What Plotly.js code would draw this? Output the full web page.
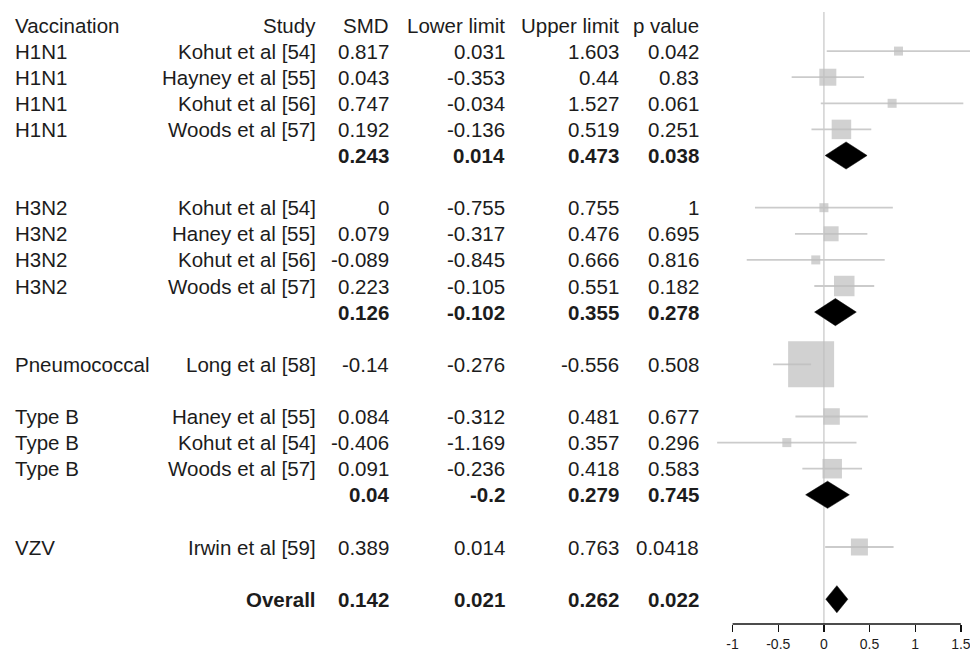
<!DOCTYPE html>
<html>
<head>
<meta charset="utf-8">
<script src="https://cdn.plot.ly/plotly-3.0.1.min.js"></script>
<style>
  html, body { margin: 0; padding: 0; background: #ffffff; }
  #chart { width: 970px; height: 655px; }
</style>
</head>
<body>
<div id="chart"></div>
<script>
// ---------------- data ----------------
const vaccination = ["H1N1","H1N1","H1N1","H1N1",
                     "H3N2","H3N2","H3N2","H3N2",
                     "Pneumococcal",
                     "Type B","Type B","Type B",
                     "VZV"];
const study = ["Kohut et al [54]","Hayney et al [55]","Kohut et al [56]","Woods et al [57]",
               "Kohut et al [54]","Haney et al [55]","Kohut et al [56]","Woods et al [57]",
               "Long et al [58]",
               "Haney et al [55]","Kohut et al [54]","Woods et al [57]",
               "Irwin et al [59]"];
const smd    = [0.817, 0.043, 0.747, 0.192,  0, 0.079, -0.089, 0.223,  -0.14,  0.084, -0.406, 0.091,  0.389];
const lower  = [0.031, -0.353, -0.034, -0.136,  -0.755, -0.317, -0.845, -0.105,  -0.276,  -0.312, -1.169, -0.236,  0.014];
const upper  = [1.603, 0.44, 1.527, 0.519,  0.755, 0.476, 0.666, 0.551,  -0.556,  0.481, 0.357, 0.418,  0.763];
const pValue = [0.042, 0.83, 0.061, 0.251,  1, 0.695, 0.816, 0.182,  0.508,  0.677, 0.296, 0.583,  0.0418];
// relative study weight shown as box size
const boxWeight = [9, 17, 9, 19.5,  9, 15, 9, 20.5,  46,  16.5, 9, 19.5,  17];

const summaryGroup = ["H1N1", "H3N2", "Type B"];
const summarySMD   = [0.243, 0.126, 0.04];
const summaryLower = [0.014, -0.102, -0.2];
const summaryUpper = [0.473, 0.355, 0.279];
const summaryP     = [0.038, 0.278, 0.745];

const overallLabel = "Overall";
const overallSMD = 0.142, overallLower = 0.021, overallUpper = 0.262, overallP = 0.022;

const headers = ["Vaccination", "Study", "SMD", "Lower limit", "Upper limit", "p value"];
const xTicks = [-1, -0.5, 0, 0.5, 1, 1.5];

// ---------------- row layout ----------------
const groups = [];
vaccination.forEach((g, i) => {
  if (!groups.length || groups[groups.length - 1].name !== g) groups.push({name: g, idx: []});
  groups[groups.length - 1].idx.push(i);
});
const studyRow = new Array(smd.length);
const sumRows = [];
let r = 1;
groups.forEach(g => {
  g.idx.forEach(i => { studyRow[i] = r++; });
  const s = summaryGroup.indexOf(g.name);
  if (s >= 0) {
    sumRows.push({row: r++, smd: summarySMD[s], lo: summaryLower[s], hi: summaryUpper[s], p: summaryP[s], label: ""});
  }
  r++; // blank line
});
sumRows.push({row: r, smd: overallSMD, lo: overallLower, hi: overallUpper, p: overallP, label: overallLabel});

// ---------------- geometry (pixels) ----------------
const W = 970, H = 655;
const FONT = "Liberation Sans, Arial, sans-serif";
const FS = 20.5;
const TXT = "#1c1c1c";
const colX = {vacc: 13, study: 318, smd: 391, lo: 507, hi: 621, p: 701};
const px = x => x / W;

// ---------------- traces ----------------
const traces = [];
const lo2 = lower.map((l, i) => Math.min(l, upper[i]));
const hi2 = upper.map((u, i) => Math.max(lower[i], u));
traces.push({
  type: "scatter", mode: "markers",
  x: smd, y: studyRow,
  marker: {symbol: "square", size: boxWeight, color: "#bdbdbd", line: {width: 0}},
  error_x: {
    type: "data", symmetric: false,
    array: hi2.map((h, i) => Math.max(h - smd[i], 0)),
    arrayminus: lo2.map((l, i) => Math.max(smd[i] - l, 0)),
    color: "#cbcbcb", thickness: 1.8, width: 0
  },
  hoverinfo: "skip", showlegend: false, cliponaxis: true
});
const dh = 0.52;
sumRows.forEach(s => {
  traces.push({
    type: "scatter", mode: "lines",
    x: [s.lo, s.smd, s.hi, s.smd, s.lo],
    y: [s.row, s.row - dh, s.row, s.row + dh, s.row],
    fill: "toself", fillcolor: "#000000",
    line: {color: "#000000", width: 0.5},
    hoverinfo: "skip", showlegend: false
  });
});

// ---------------- annotations (table) ----------------
const ann = [];
function t(x, row, text, anchor, bold) {
  ann.push({
    xref: "paper", yref: "y", x: px(x), y: row, text: bold ? "<b>" + text + "</b>" : text,
    xanchor: anchor, yanchor: "middle", showarrow: false,
    font: {family: FONT, size: FS, color: TXT}
  });
}
t(colX.vacc, 0, headers[0], "left");
t(colX.study, 0, headers[1], "right");
t(colX.smd, 0, headers[2], "right");
t(colX.lo, 0, headers[3], "right");
t(colX.hi, 0, headers[4], "right");
t(colX.p, 0, headers[5], "right");
smd.forEach((v, i) => {
  const row = studyRow[i];
  t(colX.vacc, row, vaccination[i], "left");
  t(colX.study, row, study[i], "right");
  t(colX.smd, row, String(smd[i]), "right");
  t(colX.lo, row, String(lower[i]), "right");
  t(colX.hi, row, String(upper[i]), "right");
  t(colX.p, row, String(pValue[i]), "right");
});
sumRows.forEach(s => {
  if (s.label) t(colX.study, s.row, s.label, "right", true);
  t(colX.smd, s.row, String(s.smd), "right", true);
  t(colX.lo, s.row, String(s.lo), "right", true);
  t(colX.hi, s.row, String(s.hi), "right", true);
  t(colX.p, s.row, String(s.p), "right", true);
});

// ---------------- layout ----------------
const rowTop = 25.0, rowStep = 26.1, axisY = 624;
const yMax = (axisY - rowTop) / rowStep;
const yMin = (0 - rowTop) / rowStep;
const xMin = -1.2, xMax = 1.6;
const xLeftPx = 824 + 91.4 * xMin;

const layout = {
  width: W, height: H,
  margin: {l: 0, r: 0, t: 0, b: H - axisY, pad: 0},
  paper_bgcolor: "#ffffff", plot_bgcolor: "#ffffff",
  showlegend: false,
  xaxis: {
    domain: [xLeftPx / W, 1], range: [xMin, xMax], fixedrange: true,
    showgrid: false, zeroline: false, showline: false,
    tickmode: "array", tickvals: xTicks, ticktext: xTicks.map(String),
    ticks: "outside", ticklen: 7, tickwidth: 1.3, tickcolor: "#111111",
    ticklabeloverflow: "allow",
    tickfont: {family: FONT, size: 14, color: TXT}
  },
  yaxis: {
    range: [yMax, yMin], fixedrange: true,
    showgrid: false, zeroline: false, showline: false,
    showticklabels: false, ticks: ""
  },
  shapes: [
    {type: "line", xref: "x", yref: "paper", x0: 0, x1: 0, y0: 0, y1: (axisY - 12) / axisY,
     line: {color: "#d4d4d4", width: 1.6}, layer: "below"},
    {type: "line", xref: "x", yref: "paper", x0: xTicks[0], x1: xTicks[xTicks.length - 1], y0: 0, y1: 0,
     line: {color: "#111111", width: 1.3}, layer: "above"}
  ],
  annotations: ann
};

Plotly.newPlot("chart", traces, layout, {staticPlot: true, displayModeBar: false});
</script>
</body>
</html>
